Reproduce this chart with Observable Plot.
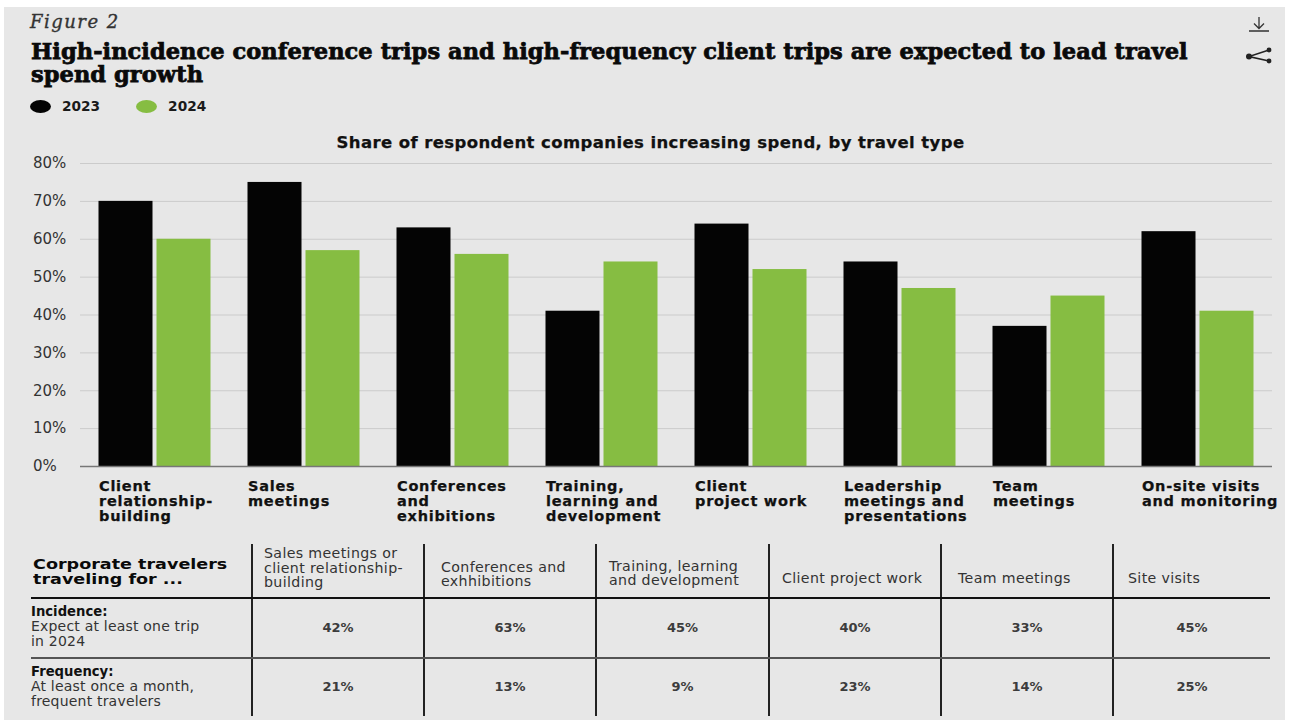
<!DOCTYPE html>
<html><head><meta charset="utf-8">
<script src="https://cdn.jsdelivr.net/npm/d3@7"></script>
<script src="https://cdn.jsdelivr.net/npm/@observablehq/plot@0.6"></script>
<style>
html,body{margin:0;padding:0;background:#fff;width:1289px;height:720px;overflow:hidden}
#panel{position:absolute;left:4px;top:7px;width:1281px;height:713px;background:#e7e7e7}
.abs{position:absolute;white-space:nowrap}
#fig{left:30px;top:11px;font:italic 18px/22px "DejaVu Serif";color:#333;letter-spacing:1.5px;-webkit-text-stroke:.35px #333}
#title{left:31px;top:39.5px;font:bold 22.5px/23.5px "DejaVu Serif";color:#0a0a0a;letter-spacing:.06px;-webkit-text-stroke:.75px #0a0a0a}
#legend{left:30px;top:98px;font:bold 13.7px/16px "DejaVu Sans";color:#1a1a1a;display:flex;align-items:center}
#legend i{display:inline-block;width:21px;height:13px;border-radius:50%;margin-right:11px}
#legend span{margin-right:36px}
#sub{left:0;width:1301px;text-align:center;top:134px;font:bold 16.5px/18px "DejaVu Sans";color:#111;letter-spacing:.4px;-webkit-text-stroke:.25px #111}
#chart{position:absolute;left:0;top:0}
#table{position:absolute;left:31px;top:544px;border-collapse:collapse;table-layout:fixed;width:1239px;color:#333;font:14.2px/14.7px "DejaVu Sans";letter-spacing:.35px}
#table td,#table th{padding:0;font-weight:normal}
#table td{border-left:2px solid #222}
#table td:first-child,#table th:first-child{border-left:none}
#table th{border-left:2px solid #222;border-bottom:2px solid #111;height:54px;text-align:left;padding-left:11px;padding-bottom:11px;vertical-align:bottom;box-sizing:border-box}
#table th:first-child{padding-left:2px;padding-bottom:10px;font:bold 14.5px/15px "DejaVu Sans";letter-spacing:0;color:#0a0a0a}
#table th:first-child span{display:inline-block;transform:scaleX(1.21);transform-origin:left center}
#table th:nth-child(2){padding-bottom:7px}
#table th:nth-child(3){padding-left:16px;padding-bottom:8px}
#table th:nth-child(4){padding-left:12px;padding-bottom:9px}
#table th:nth-child(5){padding-left:12px}
#table th:nth-child(6){padding-left:16px}
#table th:nth-child(7){padding-left:14px}
#table tr.r td{text-align:center;font-weight:bold;font-size:13px;letter-spacing:0;color:#3c3c3c;box-sizing:border-box}
#table tr.a td{height:60px}
#table tr.b td{height:58px}
#table tr.r td:first-child{text-align:left;font-weight:normal;line-height:15px;font-size:14px;letter-spacing:.2px;color:#333}
#table tr.a td:first-child{padding-bottom:3px}
#table tr.b td:first-child{padding-bottom:2px}
#table tr.r td:first-child b{color:#111;font-size:13.2px;letter-spacing:0}
#table tr.a td{border-bottom:2px solid #555}
#icons{position:absolute;left:1244px;top:14px}
</style></head><body>
<div id="panel"></div>
<div class="abs" id="fig">Figure 2</div>
<div class="abs" id="title">High-incidence conference trips and high-frequency client trips are expected to lead travel<br>spend growth</div>
<div class="abs" id="legend"></div>
<div class="abs" id="sub">Share of respondent companies increasing spend, by travel type</div>
<div id="chart"></div>
<table id="table"></table>
<svg id="icons" width="32" height="54" viewBox="0 0 32 54" fill="none" stroke="#333">
<path d="M15 3v11M10 9.5l5 5 5-5M5 17h20" stroke-width="1.3"/>
<path d="M25 36L5 42.5L25 47" stroke="#222" stroke-width="1.6"/>
<circle cx="25" cy="36" r="2.4" fill="#222" stroke="none"/><circle cx="5" cy="42.5" r="3" fill="#222" stroke="none"/><circle cx="25" cy="47" r="2.4" fill="#222" stroke="none"/>
</svg>
<script>
const categories = ["Client\nrelationship-\nbuilding","Sales\nmeetings","Conferences\nand\nexhibitions","Training,\nlearning and\ndevelopment","Client\nproject work","Leadership\nmeetings and\npresentations","Team\nmeetings","On-site visits\nand monitoring"];
const values2023 = [70,75,63,41,64,54,37,62];
const values2024 = [60,57,56,54,52,47,45,41];
const years = ["2023","2024"];
const yearColors = ["#040404","#86bd42"];
const yTicks = [0,10,20,30,40,50,60,70,80];
const tableColumns = ["Sales meetings or<br>client relationship-<br>building","Conferences and<br>exhhibitions","Training, learning<br>and development","Client project work","Team meetings","Site visits"];
const incidence = ["42%","63%","45%","40%","33%","45%"];
const frequency = ["21%","13%","9%","23%","14%","25%"];

const rows = categories.flatMap((c,i)=>[
  {category:c,year:"2023",value:values2023[i]},
  {category:c,year:"2024",value:values2024[i]}
]);

const plot = Plot.plot({
  width:1289, height:540,
  marginLeft:80, marginRight:17, marginTop:163, marginBottom:74,
  style:{background:"transparent",overflow:"visible",fontFamily:"DejaVu Sans"},
  fx:{domain:categories,paddingInner:0,paddingOuter:0,round:false,axis:null,label:null},
  x:{domain:years,paddingInner:0.069,paddingOuter:0.319,round:false,axis:null,label:null},
  y:{domain:[0,80],ticks:yTicks,label:null,axis:null},
  color:{domain:years,range:yearColors},
  marks:[
    Plot.ruleY(yTicks.filter(d=>d>0),{stroke:"#cbcbcb",strokeWidth:1}),
    Plot.barY(rows,{fx:"category",x:"year",y:"value",fill:"year"}),
    Plot.ruleY([0],{stroke:"#777",strokeWidth:1.5}),
    Plot.axisY({ticks:yTicks,tickSize:0,tickPadding:47.5,textAnchor:"start",tickFormat:d=>d+"%",fontSize:15,color:"#333",label:null,anchor:"left"}),
    Plot.text(categories,{fx:d=>d,text:d=>d,frameAnchor:"bottom-left",dx:18.5,dy:14,lineAnchor:"top",textAnchor:"start",lineHeight:1.03,fontSize:14.5,fontWeight:"bold",fill:"#111",stroke:"#111",strokeWidth:.25,
      render(index,scales,values,dimensions,context,next){const g=next(index,scales,values,dimensions,context);g.style.letterSpacing="0.75px";return g;}})
  ]
});
document.getElementById("chart").append(plot);

document.getElementById("legend").innerHTML = years.map((y,i)=>`<i style="background:${yearColors[i]}"></i><span>${y}</span>`).join("");

const colW = [221,172,172,173,172,172,157];
document.getElementById("table").innerHTML =
 `<colgroup>${colW.map(w=>`<col style="width:${w}px">`).join("")}</colgroup>`+
 `<tr><th><span>Corporate travelers<br>traveling for ...</span></th>${tableColumns.map(c=>`<th>${c}</th>`).join("")}</tr>`+
 `<tr class="r a"><td><b>Incidence:</b><br>Expect at least one trip<br>in 2024</td>${incidence.map(v=>`<td>${v}</td>`).join("")}</tr>`+
 `<tr class="r b"><td><b>Frequency:</b><br>At least once a month,<br>frequent travelers</td>${frequency.map(v=>`<td>${v}</td>`).join("")}</tr>`;
</script>
</body></html>
